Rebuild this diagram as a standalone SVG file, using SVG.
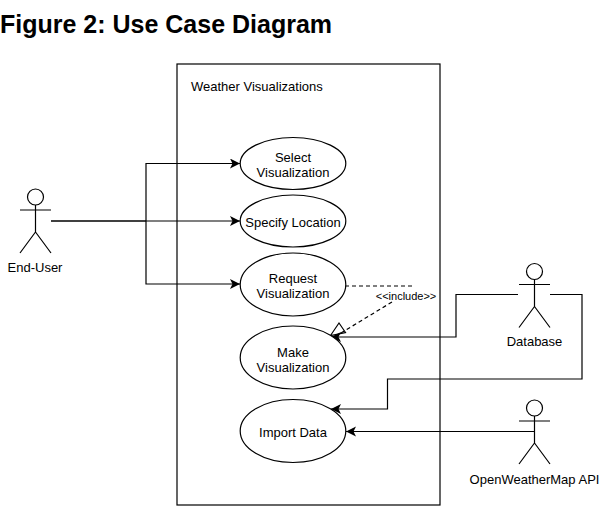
<svg xmlns="http://www.w3.org/2000/svg" width="599" height="514" viewBox="0 0 599 514">
<style>
text{font-family:"Liberation Sans",Arial,sans-serif;font-size:13px;fill:#000;text-anchor:middle}
.s{fill:none;stroke:#000;stroke-width:1.2}
.u{fill:#fff;stroke:#000;stroke-width:1.2}
.d{fill:none;stroke:#000;stroke-width:1.2;stroke-dasharray:4 3}
</style>
<defs>
<marker id="a" markerUnits="userSpaceOnUse" markerWidth="12" markerHeight="12" refX="10" refY="5" orient="auto"><path d="M0 0L10 5L0 10L2.500 5Z" fill="#000"/></marker>
<symbol id="actor" overflow="visible"><circle class="s" cx="15.500" cy="8" r="8"/><path class="s" d="M15.500 16V43M0 21H31M15.500 43L0 64M15.500 43L31 64"/></symbol>
</defs>
<text id="title" x="0" y="33" style="font-size:25px;font-weight:bold;text-anchor:start">Figure 2: Use Case Diagram</text>
<g id="system"><rect class="s" x="177" y="64" width="263" height="441"/><text x="191" y="91" style="text-anchor:start">Weather Visualizations</text></g>
<g id="connectors">
<path class="s" style="stroke-width:1.6" d="M51 221H146"/>
<path class="s" marker-end="url(#a)" d="M146 221V163.500H240"/>
<path class="s" marker-end="url(#a)" d="M146 221H240"/>
<path class="s" marker-end="url(#a)" d="M146 221V284H240"/>
<path class="s" marker-end="url(#a)" d="M518 294.500H456V337H331"/>
<path class="s" marker-end="url(#a)" d="M550 294.500H582V379H387.500V409H331"/>
<path class="s" marker-end="url(#a)" d="M534 431.500H346"/>
<path class="d" d="M345 286H412"/>
<path class="d" d="M392 302L336 336"/>
<path class="s" d="M339 323L330.500 335.500L345.500 332.500Z"/>
</g>
<g id="select"><ellipse class="u" cx="293" cy="163.500" rx="52.800" ry="26"/><text x="293" y="162">Select</text><text x="293" y="177">Visualization</text></g>
<g id="specify"><ellipse class="u" cx="293" cy="221" rx="52.800" ry="26"/><text x="293" y="227">Specify Location</text></g>
<g id="request"><ellipse class="u" cx="293" cy="284.500" rx="52.800" ry="31.500"/><text x="293" y="283">Request</text><text x="293" y="298">Visualization</text></g>
<g id="make"><ellipse class="u" cx="293" cy="357.500" rx="52.800" ry="31.500"/><text x="293" y="357">Make</text><text x="293" y="372">Visualization</text></g>
<g id="import"><ellipse class="u" cx="293" cy="431" rx="52.800" ry="31.500"/><text x="293" y="437">Import Data</text></g>
<g id="include"><text x="406" y="300" style="font-size:11px">&lt;&lt;include&gt;&gt;</text></g>
<g id="end-user"><use href="#actor" x="20" y="189"/><text x="35" y="272">End-User</text></g>
<g id="database"><use href="#actor" x="519" y="263.500"/><text x="534.500" y="346">Database</text></g>
<g id="openweathermap"><use href="#actor" x="519" y="400"/><text x="534.500" y="484">OpenWeatherMap API</text></g>
</svg>
